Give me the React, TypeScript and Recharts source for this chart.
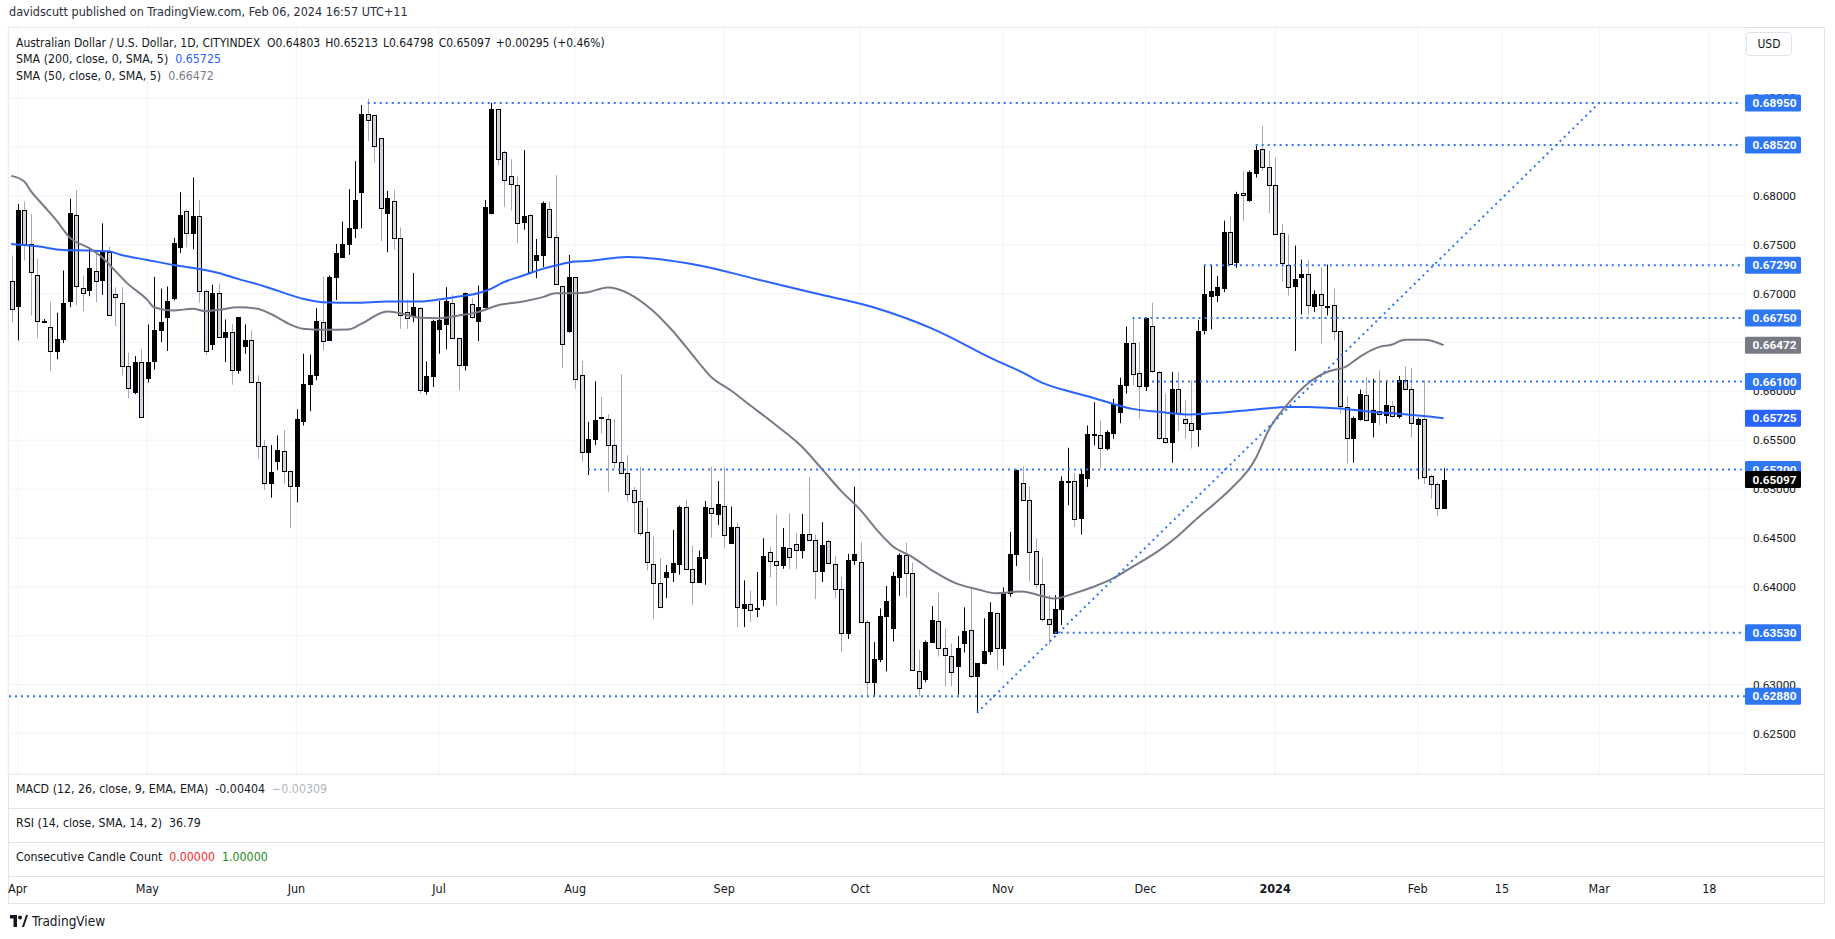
import React from 'react';
import { ComposedChart, Bar, Line, XAxis, YAxis, ReferenceLine, CartesianGrid } from 'recharts';

// ---- candle data (daily AUD/USD), index 0 = first visible bar ----
const opens = [
  0.67126, 0.66871, 0.67854, 0.67507, 0.6719, 0.66718, 0.6666, 0.66412, 0.66534, 0.66925,
  0.67803, 0.67058, 0.67034, 0.67235, 0.67136, 0.67425, 0.66993, 0.66905, 0.66262, 0.65993,
  0.66303, 0.66136, 0.6631, 0.6663, 0.66759, 0.66952, 0.67473, 0.6784, 0.67616, 0.67793,
  0.67027, 0.66486, 0.67003, 0.66554, 0.66609, 0.66221, 0.66466, 0.66527, 0.66099, 0.65439,
  0.65058, 0.65289, 0.65384, 0.6518, 0.65034, 0.65697, 0.66078, 0.6617, 0.66707, 0.66524,
  0.67167, 0.67371, 0.67503, 0.67667, 0.68034, 0.68833, 0.68823, 0.68588, 0.67823, 0.67946,
  0.67568, 0.6681, 0.66769, 0.66854, 0.66, 0.66156, 0.66639, 0.6669, 0.66901, 0.66548,
  0.66265, 0.66891, 0.66721, 0.66861, 0.6782, 0.68884, 0.68452, 0.68201, 0.68109, 0.67728,
  0.67803, 0.67344, 0.67395, 0.67861, 0.67575, 0.67078, 0.66616, 0.67167, 0.66163, 0.65381,
  0.65507, 0.65741, 0.65721, 0.65446, 0.65279, 0.6516, 0.64986, 0.64874, 0.64558, 0.64231,
  0.64037, 0.64099, 0.6415, 0.64231, 0.64813, 0.6418, 0.64051, 0.6429, 0.64803, 0.64741,
  0.64823, 0.64446, 0.64616, 0.63779, 0.63827, 0.6377, 0.63874, 0.64354, 0.64262, 0.64221,
  0.64395, 0.64435, 0.64371, 0.64537, 0.64476, 0.6416, 0.64466, 0.64231, 0.63976, 0.63527,
  0.64276, 0.64252, 0.63639, 0.63027, 0.63259, 0.63701, 0.63582, 0.64102, 0.64323, 0.64136,
  0.63133, 0.63054, 0.63432, 0.63646, 0.63371, 0.63293, 0.63184, 0.63422, 0.63554, 0.63088,
  0.63218, 0.63344, 0.63728, 0.63371, 0.63939, 0.6434, 0.65065, 0.64891, 0.64364, 0.64024,
  0.63667, 0.63531, 0.63769, 0.6507, 0.65082, 0.64707, 0.65116, 0.6556, 0.65554, 0.65422,
  0.65571, 0.65786, 0.66061, 0.66497, 0.6619, 0.66054, 0.66667, 0.66197, 0.65524, 0.65483,
  0.66027, 0.65721, 0.6568, 0.65609, 0.66629, 0.6697, 0.6699, 0.67054, 0.67633, 0.6732,
  0.68031, 0.67956, 0.68238, 0.68483, 0.68299, 0.68109, 0.67619, 0.67293, 0.67082, 0.67167,
  0.67201, 0.66871, 0.66997, 0.6686, 0.66884, 0.66612, 0.6584, 0.65527, 0.65721, 0.65959,
  0.65687, 0.658, 0.65762, 0.65847, 0.65745, 0.66112, 0.66027, 0.6567, 0.65721, 0.65133,
  0.65051, 0.64803,
];
const highs = [
  0.67388, 0.67915, 0.67942, 0.67813, 0.67354, 0.6674, 0.66915, 0.66803, 0.67235, 0.67969,
  0.68058, 0.67184, 0.67473, 0.67422, 0.67718, 0.6748, 0.67065, 0.67065, 0.66395, 0.6636,
  0.66429, 0.66684, 0.6717, 0.67051, 0.67071, 0.67568, 0.68037, 0.67864, 0.68187, 0.67956,
  0.6704, 0.67092, 0.67102, 0.66735, 0.6669, 0.6676, 0.66684, 0.66622, 0.66163, 0.655,
  0.65449, 0.65548, 0.65602, 0.6519, 0.65816, 0.66384, 0.66374, 0.6685, 0.67173, 0.67184,
  0.67507, 0.67735, 0.68068, 0.68354, 0.68929, 0.68993, 0.6883, 0.6859, 0.68051, 0.68058,
  0.67677, 0.66935, 0.67211, 0.6686, 0.66306, 0.6673, 0.66925, 0.67065, 0.66986, 0.6655,
  0.6701, 0.66952, 0.67082, 0.67956, 0.68952, 0.6889, 0.6846, 0.68374, 0.68204, 0.68469,
  0.6781, 0.67558, 0.67942, 0.67942, 0.68211, 0.6708, 0.67395, 0.6717, 0.6631, 0.65687,
  0.66102, 0.65942, 0.65765, 0.65714, 0.66173, 0.65347, 0.6502, 0.65228, 0.6481, 0.64514,
  0.64293, 0.64224, 0.64582, 0.6483, 0.64888, 0.64418, 0.64371, 0.64878, 0.65228, 0.65082,
  0.65228, 0.6482, 0.64656, 0.64065, 0.63959, 0.6415, 0.64497, 0.64412, 0.64741, 0.64602,
  0.64748, 0.64548, 0.64745, 0.65122, 0.64537, 0.6466, 0.6448, 0.64316, 0.64099, 0.64337,
  0.65024, 0.64456, 0.6366, 0.63435, 0.63779, 0.64007, 0.6415, 0.6434, 0.64452, 0.64248,
  0.63354, 0.63449, 0.63803, 0.63939, 0.63575, 0.6342, 0.63497, 0.63789, 0.64, 0.6322,
  0.63677, 0.6384, 0.6374, 0.63993, 0.64561, 0.652, 0.65231, 0.65027, 0.64493, 0.64296,
  0.63915, 0.63915, 0.65129, 0.65422, 0.65167, 0.652, 0.6565, 0.65888, 0.65701, 0.656,
  0.65922, 0.6614, 0.66663, 0.66759, 0.66503, 0.66759, 0.66905, 0.6621, 0.65976, 0.66197,
  0.66197, 0.65908, 0.66112, 0.66731, 0.67293, 0.67293, 0.6718, 0.67745, 0.67796, 0.68041,
  0.68255, 0.6826, 0.68527, 0.68714, 0.6846, 0.68391, 0.67711, 0.67602, 0.6749, 0.67347,
  0.67344, 0.67031, 0.67269, 0.67296, 0.67048, 0.6662, 0.65949, 0.6574, 0.66017, 0.66146,
  0.66129, 0.66214, 0.66112, 0.659, 0.66156, 0.66255, 0.66241, 0.6573, 0.66112, 0.6515,
  0.6507, 0.65213,
];
const lows = [
  0.66707, 0.6652, 0.67337, 0.66776, 0.66544, 0.667, 0.66207, 0.66327, 0.66493, 0.6686,
  0.66878, 0.6682, 0.66973, 0.66912, 0.66986, 0.6677, 0.66667, 0.66163, 0.65925, 0.6597,
  0.6573, 0.66088, 0.66221, 0.66503, 0.66412, 0.6693, 0.67415, 0.67473, 0.67452, 0.66905,
  0.66371, 0.66422, 0.6655, 0.663, 0.66068, 0.6618, 0.66384, 0.6609, 0.65313, 0.6499,
  0.64912, 0.65194, 0.65048, 0.64599, 0.64864, 0.6565, 0.65796, 0.66112, 0.66418, 0.6652,
  0.66935, 0.6737, 0.67395, 0.67568, 0.67667, 0.68561, 0.6834, 0.67534, 0.67422, 0.67449,
  0.66639, 0.66639, 0.66707, 0.65976, 0.65966, 0.66044, 0.66384, 0.66429, 0.6654, 0.6601,
  0.66214, 0.6674, 0.66514, 0.6685, 0.6781, 0.68313, 0.67888, 0.6785, 0.67517, 0.67653,
  0.6722, 0.67156, 0.67269, 0.6758, 0.671, 0.66238, 0.666, 0.66027, 0.65279, 0.65143,
  0.65449, 0.65568, 0.64973, 0.65211, 0.6515, 0.64871, 0.64554, 0.6452, 0.64167, 0.6367,
  0.6378, 0.63884, 0.64048, 0.64122, 0.6417, 0.63816, 0.6404, 0.6402, 0.64503, 0.64633,
  0.64395, 0.6444, 0.63588, 0.63588, 0.6364, 0.6369, 0.638, 0.64095, 0.6381, 0.64184,
  0.6418, 0.6418, 0.64289, 0.6447, 0.63874, 0.64048, 0.6424, 0.63884, 0.63333, 0.63466,
  0.64224, 0.6363, 0.62881, 0.62881, 0.63228, 0.63133, 0.63439, 0.63908, 0.63888, 0.6314,
  0.62878, 0.63024, 0.6343, 0.63286, 0.6298, 0.6298, 0.62895, 0.63327, 0.63065, 0.62714,
  0.63207, 0.63303, 0.6315, 0.63194, 0.63898, 0.64211, 0.6488, 0.64051, 0.63983, 0.63643,
  0.63405, 0.6353, 0.63609, 0.64833, 0.64612, 0.64534, 0.6502, 0.65446, 0.65218, 0.65395,
  0.65514, 0.65673, 0.65976, 0.6606, 0.65721, 0.66003, 0.6619, 0.655, 0.6546, 0.65269,
  0.65592, 0.65517, 0.65415, 0.65432, 0.66582, 0.66633, 0.66912, 0.67014, 0.6729, 0.67262,
  0.67745, 0.67939, 0.68187, 0.68255, 0.67823, 0.676, 0.6712, 0.6698, 0.66412, 0.66786,
  0.66786, 0.6681, 0.66486, 0.66776, 0.6652, 0.65772, 0.65262, 0.65269, 0.657, 0.6569,
  0.65527, 0.6565, 0.6567, 0.6573, 0.65721, 0.6601, 0.65527, 0.65099, 0.6505, 0.649,
  0.6472, 0.64798,
];
const closes = [
  0.66844, 0.67854, 0.67507, 0.67218, 0.66721, 0.66722, 0.66415, 0.66537, 0.66905, 0.67823,
  0.67075, 0.67007, 0.67262, 0.6713, 0.67429, 0.66782, 0.66966, 0.66262, 0.66034, 0.66303,
  0.65741, 0.66303, 0.6663, 0.66711, 0.66925, 0.6752, 0.67803, 0.67619, 0.67793, 0.67027,
  0.66415, 0.67003, 0.66558, 0.66602, 0.66221, 0.66755, 0.66527, 0.66099, 0.65439, 0.65058,
  0.6517, 0.65398, 0.6518, 0.65027, 0.65721, 0.66078, 0.6617, 0.66714, 0.66517, 0.67173,
  0.67415, 0.67507, 0.6767, 0.67956, 0.68833, 0.68772, 0.68507, 0.67874, 0.67976, 0.67568,
  0.66776, 0.66752, 0.66867, 0.6601, 0.66156, 0.66721, 0.66731, 0.66925, 0.66548, 0.66265,
  0.67007, 0.66755, 0.66867, 0.67888, 0.68891, 0.68374, 0.6816, 0.68119, 0.67724, 0.67796,
  0.67224, 0.67395, 0.67925, 0.67582, 0.67099, 0.6648, 0.67167, 0.66129, 0.65381, 0.6551,
  0.65704, 0.6574, 0.65446, 0.65279, 0.6516, 0.64949, 0.64871, 0.64548, 0.64252, 0.64037,
  0.63793, 0.6415, 0.64241, 0.64816, 0.6418, 0.64044, 0.64303, 0.64813, 0.64752, 0.64847,
  0.64527, 0.64609, 0.63793, 0.63827, 0.63762, 0.6378, 0.64313, 0.64262, 0.64221, 0.64405,
  0.643, 0.64374, 0.64537, 0.64476, 0.6416, 0.64425, 0.64241, 0.63976, 0.63527, 0.64276,
  0.64337, 0.63639, 0.63027, 0.63262, 0.63701, 0.63854, 0.64109, 0.64323, 0.64136, 0.6315,
  0.62963, 0.63432, 0.6366, 0.63371, 0.63303, 0.63126, 0.63371, 0.63548, 0.63088, 0.63218,
  0.63344, 0.63738, 0.63371, 0.63932, 0.6434, 0.6519, 0.64891, 0.64357, 0.64024, 0.63667,
  0.63616, 0.63769, 0.65078, 0.6508, 0.64697, 0.65156, 0.65565, 0.65566, 0.65422, 0.65582,
  0.65871, 0.66068, 0.66493, 0.66173, 0.66054, 0.66748, 0.66204, 0.65517, 0.65483, 0.66027,
  0.65782, 0.6568, 0.65602, 0.66616, 0.66997, 0.67031, 0.67071, 0.67633, 0.67303, 0.68017,
  0.6801, 0.68241, 0.68466, 0.68296, 0.68109, 0.67609, 0.6731, 0.67071, 0.6715, 0.67201,
  0.66878, 0.66997, 0.66878, 0.6687, 0.66612, 0.65847, 0.65527, 0.65731, 0.65976, 0.65704,
  0.65806, 0.65772, 0.65857, 0.65745, 0.66112, 0.66027, 0.65677, 0.65721, 0.65126, 0.65051,
  0.64803, 0.65097,
];

// ---- moving averages at selected bars ----
const sma200Idx = [0, 4, 8, 12, 15, 17, 21, 25, 29, 32, 35, 39, 43, 45, 48, 53, 58, 63, 66, 69, 72, 74, 76, 79, 82, 84, 87, 89, 95, 106, 115, 124, 133, 142, 152, 156, 159, 164, 167, 170, 173, 177, 182, 187, 192, 197, 200, 205, 210, 215, 221];
const sma200Val = [0.67507, 0.67483, 0.67446, 0.6744, 0.67432, 0.67395, 0.67344, 0.67293, 0.67252, 0.67211, 0.6715, 0.67075, 0.66986, 0.66946, 0.66912, 0.66905, 0.66918, 0.66918, 0.66939, 0.66969, 0.67003, 0.67048, 0.67116, 0.67184, 0.67252, 0.67286, 0.67327, 0.67333, 0.67374, 0.6729, 0.67147, 0.67003, 0.6686, 0.66644, 0.66313, 0.66194, 0.66088, 0.65985, 0.65932, 0.65871, 0.6582, 0.6579, 0.65762, 0.65782, 0.65813, 0.6584, 0.6584, 0.65823, 0.65789, 0.65765, 0.65725];
const sma50Idx = [0, 2, 3, 5, 7, 9, 12, 14, 16, 18, 21, 22, 25, 28, 30, 32, 35, 38, 40, 43, 45, 48, 52, 54, 58, 60, 63, 66, 69, 72, 75, 79, 82, 84, 87, 89, 92, 99, 102, 106, 108, 111, 114, 118, 122, 125, 128, 131, 134, 136, 139, 142, 146, 149, 152, 156, 159, 161, 164, 167, 170, 173, 177, 180, 183, 186, 188, 192, 194, 197, 200, 203, 206, 208, 211, 213, 215, 218, 221];
const sma50Val = [0.68204, 0.68146, 0.68051, 0.67898, 0.67745, 0.67575, 0.67466, 0.67371, 0.67235, 0.67099, 0.66935, 0.6686, 0.66827, 0.66844, 0.6682, 0.66833, 0.6686, 0.66844, 0.66793, 0.66685, 0.6664, 0.66629, 0.66633, 0.6669, 0.66816, 0.66799, 0.66752, 0.66748, 0.66776, 0.6681, 0.66878, 0.66918, 0.66963, 0.67003, 0.67003, 0.67014, 0.67063, 0.66825, 0.66622, 0.66299, 0.66146, 0.6601, 0.65857, 0.65653, 0.65432, 0.65211, 0.64983, 0.64786, 0.64548, 0.64415, 0.64306, 0.6417, 0.64029, 0.63975, 0.63933, 0.63952, 0.63905, 0.6388, 0.63932, 0.64, 0.64085, 0.64204, 0.64367, 0.6452, 0.647, 0.6487, 0.6499, 0.65313, 0.65602, 0.65874, 0.66078, 0.66197, 0.66255, 0.6635, 0.66452, 0.66476, 0.66527, 0.66527, 0.66472];

// ---- axes ----
const timeTickIdx = [1, 21, 44, 66, 87, 110, 131, 153, 175, 195, 217, 230, 245, 262];
const timeTickLabels = ['Apr', 'May', 'Jun', 'Jul', 'Aug', 'Sep', 'Oct', 'Nov', 'Dec', '2024', 'Feb', '15', 'Mar', '18'];
const priceTicks = [0.625, 0.63, 0.635, 0.64, 0.645, 0.65, 0.655, 0.66, 0.665, 0.67, 0.675, 0.68, 0.685, 0.69];
const SLOTS = 268;

// ---- drawings ----
const levels = [0.6895, 0.6852, 0.6729, 0.6675, 0.661, 0.652, 0.6353, 0.6288];
const levelStartIdx = [55, 192, 184, 173, 176, 89, 161, 0];
const trendIdx = [149, 245];
const trendVal = [0.6271, 0.6895];
const sma50Last = 0.66472;
const sma200Last = 0.65725;
const lastClose = 0.65097;

const LEVEL_BLUE = '#2f76f5';
const FONT = "'Liberation Sans Narrow', 'DejaVu Sans Condensed', Roboto, sans-serif";
const AXIS_FONT = 'Roboto, sans-serif';
const PRICE_LABEL_X = 1745; // left edge of the price scale column

const data = Array.from({ length: SLOTS }, (_, i) => {
  const row: any = { i };
  if (i < opens.length) {
    row.o = opens[i];
    row.h = highs[i];
    row.l = lows[i];
    row.c = closes[i];
    row.range = [lows[i], highs[i]];
  }
  const a = sma200Idx.indexOf(i);
  if (a >= 0) row.sma200 = sma200Val[a];
  const b = sma50Idx.indexOf(i);
  if (b >= 0) row.sma50 = sma50Val[b];
  return row;
});

const Candle = (props: any) => {
  const { x, y, width, height } = props;
  const p = props.payload || props;
  if (p == null || p.o == null || !isFinite(y) || !isFinite(height)) return null;
  const { o, h, l, c } = p;
  const span = h - l;
  const k = span > 0 ? height / span : 0;
  const py = (v: number) => y + (h - v) * k;
  const up = c >= o;
  const cx = Math.round(x + width / 2);
  const top = Math.round(py(Math.max(o, c)));
  const bot = Math.round(py(Math.min(o, c)));
  const bh = Math.max(bot - top, 1);
  return (
    <g>
      <line x1={cx + 0.5} x2={cx + 0.5} y1={y} y2={y + height} stroke={up ? '#000000' : '#a5a8b1'} strokeWidth={1} />
      <rect x={cx - 1.5} y={top + 0.5} width={4} height={bh} fill={up ? '#000000' : '#d1d4dc'} stroke="#000000" strokeWidth={1} />
    </g>
  );
};

const PriceTick = (props: any) => {
  const { y, payload } = props;
  const v = payload.value;
  const x = PRICE_LABEL_X;
  const li = levels.indexOf(v);
  let bg: string | null = null;
  if (li >= 0) bg = LEVEL_BLUE;
  else if (v === sma50Last) bg = '#787b86';
  else if (v === sma200Last) bg = '#2962ff';
  else if (v === lastClose) bg = '#000000';
  const label = v.toFixed(5);
  if (bg) {
    return (
      <g>
        <rect x={x} y={y - 8.5} width={56} height={17} rx={1.5} fill={bg} />
        <text x={x + 7.5} y={y + 4.2} fill="#ffffff" fontSize={11.8} fontWeight={700} fontFamily={AXIS_FONT}>{label}</text>
      </g>
    );
  }
  return (
    <text x={x + 8} y={y + 4.2} fill="#131722" fontSize={11.8} fontFamily={AXIS_FONT}>{label}</text>
  );
};

const TimeTick = (props: any) => {
  const { x, payload } = props;
  const idx = timeTickIdx.indexOf(payload.value);
  if (idx < 0) return <g />;
  const lab = timeTickLabels[idx];
  return (
    <text x={x} y={893} textAnchor="middle" fill="#131722" fontSize={12.5} fontWeight={lab === '2024' ? 700 : 400} fontFamily={FONT}>{lab}</text>
  );
};

const rowStyle: any = { position: 'absolute', left: 16, fontSize: 12.3, fontFamily: FONT, color: '#131722', whiteSpace: 'pre', lineHeight: '14px' };
const gap = { marginLeft: 7 };
const gapS = { marginLeft: 5 };

export default function App() {
  const yTicks = [...priceTicks, ...levels, sma50Last, sma200Last, lastClose];
  return (
    <div style={{ position: 'relative', width: 1835, height: 939, background: '#ffffff', overflow: 'hidden' }}>
      <style>{'body{margin:0;background:#fff}'}</style>
      {/* frame */}
      <div style={{ position: 'absolute', left: 8, top: 27, width: 1817, height: 877, border: '1px solid #e0e3eb', boxSizing: 'border-box' }} />
      {[774, 808, 842, 876].map((t) => (
        <div key={t} style={{ position: 'absolute', left: 8, top: t, width: 1817, height: 1, background: '#e0e3eb' }} />
      ))}
      <div style={{ position: 'absolute', left: 0, top: 0 }}>
        <ComposedChart width={1835} height={939} data={data} margin={{ top: 28, right: 0, bottom: 0, left: 8 }} barCategoryGap={0}>
          <CartesianGrid stroke="#f0f3fa" yAxisId="grid" horizontal vertical />
          <XAxis dataKey="i" type="category" ticks={timeTickIdx} interval={0} height={165} axisLine={false} tickLine={false} tick={<TimeTick />} />
          <YAxis yAxisId="grid" orientation="right" domain={[0.62084, 0.69717]} type="number" ticks={priceTicks} hide allowDataOverflow />
          <YAxis yAxisId="p" orientation="right" width={90} domain={[0.62084, 0.69717]} type="number" ticks={yTicks} interval={0} allowDataOverflow axisLine={false} tickLine={false} tick={<PriceTick />} />
          <Line yAxisId="p" dataKey="sma200" type="monotone" stroke="#2962ff" strokeWidth={2} dot={false} connectNulls isAnimationActive={false} />
          <Line yAxisId="p" dataKey="sma50" type="monotone" stroke="#787b86" strokeWidth={2} dot={false} connectNulls isAnimationActive={false} />
          <Bar yAxisId="p" dataKey="range" barSize={5} shape={<Candle />} isAnimationActive={false} />
          {levels.map((v, k) =>
            levelStartIdx[k] === 0 ? (
              <ReferenceLine key={'lv' + k} yAxisId="p" y={v} stroke={LEVEL_BLUE} strokeWidth={2} strokeDasharray="2 4" />
            ) : (
              <ReferenceLine key={'lv' + k} yAxisId="p" segment={[{ x: levelStartIdx[k], y: v }, { x: SLOTS - 1, y: v }]} stroke={LEVEL_BLUE} strokeWidth={2} strokeDasharray="2 4" />
            )
          )}
          <ReferenceLine yAxisId="p" segment={[{ x: trendIdx[0], y: trendVal[0] }, { x: trendIdx[1], y: trendVal[1] }]} stroke={LEVEL_BLUE} strokeWidth={2} strokeDasharray="2 4" />
        </ComposedChart>
      </div>

      {/* header & legends */}
      <div style={{ ...rowStyle, left: 9, top: 5, fontSize: 12.5, color: '#2a2e39' }}>davidscutt published on TradingView.com, Feb 06, 2024 16:57 UTC+11</div>
      <div style={{ ...rowStyle, top: 36, fontSize: 12 }}>
        Australian Dollar / U.S. Dollar, 1D, CITYINDEX
        <span style={gap}>O0.64803</span>
        <span style={gapS}>H0.65213</span>
        <span style={gapS}>L0.64798</span>
        <span style={gapS}>C0.65097</span>
        <span style={gapS}>+0.00295 (+0.46%)</span>
      </div>
      <div style={{ ...rowStyle, top: 52 }}>SMA (200, close, 0, SMA, 5)<span style={{ ...gap, color: '#2962ff' }}>0.65725</span></div>
      <div style={{ ...rowStyle, top: 69 }}>SMA (50, close, 0, SMA, 5)<span style={{ ...gap, color: '#787b86' }}>0.66472</span></div>
      <div style={{ position: 'absolute', left: 1746, top: 32, width: 46, height: 24, border: '1px solid #e0e3eb', borderRadius: 4, boxSizing: 'border-box', fontFamily: FONT, fontSize: 12, color: '#131722', display: 'flex', alignItems: 'center', justifyContent: 'center', background: '#fff' }}>USD</div>

      {/* indicator panes */}
      <div style={{ ...rowStyle, top: 782 }}>MACD (12, 26, close, 9, EMA, EMA)<span style={gap}>-0.00404</span><span style={{ ...gap, color: '#b2b5be' }}>−0.00309</span></div>
      <div style={{ ...rowStyle, top: 816 }}>RSI (14, close, SMA, 14, 2)<span style={gap}>36.79</span></div>
      <div style={{ ...rowStyle, top: 850 }}>Consecutive Candle Count<span style={{ ...gap, color: '#f7252b' }}>0.00000</span><span style={{ ...gap, color: '#148c14' }}>1.00000</span></div>

      {/* footer logo */}
      <div style={{ position: 'absolute', left: 10, top: 913, display: 'flex', alignItems: 'center', gap: 4 }}>
        <svg width="18" height="12" viewBox="0 0 36 24">
          <path d="M0 0h14v24H7V7H0z" fill="#131722" />
          <circle cx="20" cy="5" r="4" fill="#131722" />
          <path d="M24 24L32 0h4l-8 24z" fill="#131722" />
        </svg>
        <span style={{ fontFamily: FONT, fontSize: 13.5, color: '#131722' }}>TradingView</span>
      </div>
    </div>
  );
}
